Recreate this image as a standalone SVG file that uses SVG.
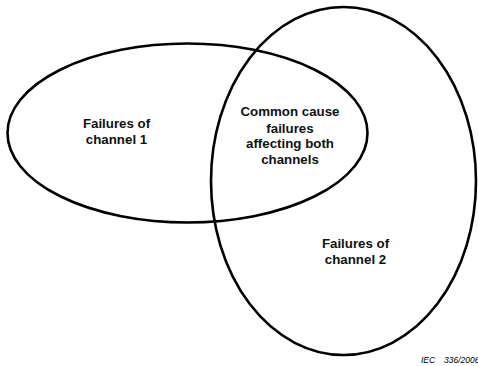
<svg xmlns="http://www.w3.org/2000/svg" width="478" height="366" viewBox="0 0 478 366">
<style>
.set{fill:none;stroke:#000;stroke-width:2.6}
.lbl{font-family:"Liberation Sans",Arial,sans-serif;font-weight:bold;font-size:13.3px;fill:#111;text-anchor:middle}
.ref{font-family:"Liberation Sans",Arial,sans-serif;font-style:italic;font-size:8.5px;fill:#000}
</style>
<rect width="478" height="366" fill="#fff"/>
<g id="channel1">
<ellipse class="set" cx="187.5" cy="133" rx="180" ry="89.5"/>
<text class="lbl" x="116.5" y="128">Failures of</text>
<text class="lbl" x="116.5" y="143.5">channel 1</text>
</g>
<g id="channel2">
<ellipse class="set" cx="343.5" cy="181" rx="132.5" ry="174"/>
<text class="lbl" x="355.5" y="248">Failures of</text>
<text class="lbl" x="355.5" y="263.5">channel 2</text>
</g>
<g id="common">
<text class="lbl" x="290" y="116">Common cause</text>
<text class="lbl" x="290" y="132.5">failures</text>
<text class="lbl" x="290" y="148">affecting both</text>
<text class="lbl" x="290" y="164">channels</text>
</g>
<g id="connectors"></g>
<text class="ref" y="362.5"><tspan x="421">IEC</tspan><tspan x="444">336/2006</tspan></text>
</svg>
